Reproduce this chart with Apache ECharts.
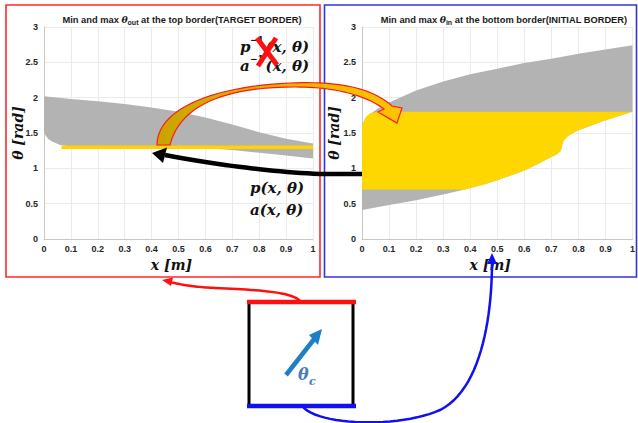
<!DOCTYPE html>
<html><head><meta charset="utf-8">
<script src="https://cdn.jsdelivr.net/npm/echarts@6/dist/echarts.min.js"></script>
<style>html,body{margin:0;padding:0;background:#fff}#c{width:638px;height:423px}</style>
</head><body><div id="c"></div>
<script>
// ---- axes ----
const xTicks = [0, 0.1, 0.2, 0.3, 0.4, 0.5, 0.6, 0.7, 0.8, 0.9, 1];
const yTicks = [0, 0.5, 1, 1.5, 2, 2.5, 3];

// ---- left panel: theta_out at top border (target) ----
const outUpperX = [0, 0.1, 0.2, 0.3, 0.4, 0.5, 0.6, 0.7, 0.8, 0.9, 1.0];
const outUpperY = [2.02, 1.98, 1.95, 1.91, 1.86, 1.80, 1.72, 1.62, 1.51, 1.42, 1.35];
const outLowerX = [0, 0.005, 0.015, 0.03, 0.06, 0.1, 0.3, 0.55, 0.7, 0.8, 0.9, 1.0];
const outLowerY = [1.54, 1.47, 1.42, 1.38, 1.33, 1.31, 1.30, 1.30, 1.26, 1.22, 1.18, 1.14];
const targetX = [0.065, 1.0];
const targetY = [1.3, 1.3];

// ---- right panel: theta_in at bottom border (initial) ----
const inUpperX = [0, 0.01, 0.03, 0.06, 0.1, 0.2, 0.3, 0.4, 0.5, 0.6, 0.7, 0.8, 0.9, 1.0];
const inUpperY = [1.6, 1.68, 1.77, 1.85, 1.93, 2.1, 2.23, 2.33, 2.41, 2.49, 2.55, 2.62, 2.68, 2.74];
const inLowerX = [0, 0.1, 0.2, 0.3, 0.38, 0.45, 0.5, 0.6, 0.65, 0.7, 0.72, 0.732, 0.738, 0.74, 0.745, 0.759, 0.78, 0.8, 0.85, 0.9, 0.95, 1.0];
const inLowerY = [0.41, 0.48, 0.55, 0.63, 0.70, 0.77, 0.83, 0.97, 1.06, 1.16, 1.20, 1.235, 1.28, 1.33, 1.39, 1.45, 1.50, 1.54, 1.61, 1.68, 1.74, 1.80];
const initTopX = [0, 0, 0.005, 0.015, 0.03, 0.06, 1.0];
const initTopY = [0.7, 1.58, 1.66, 1.73, 1.78, 1.80, 1.80];
const initFloor = 0.7;

const zip = (xs, ys) => xs.map((x, i) => [x, ys[i]]);

const outGrayPoly = zip(outUpperX, outUpperY).concat(zip(outLowerX, outLowerY).reverse());
const inGrayPoly = zip(inUpperX, inUpperY).concat(zip(inLowerX, inLowerY).reverse());
const inYellowPoly = zip(initTopX, initTopY).concat(
  zip(inLowerX, inLowerY).filter(p => p[1] >= initFloor).reverse()
);

const GRAY = '#b3b3b3', GOLD = '#ffd700';

function polySeries(idx, pts, color, z) {
  return {
    type: 'custom', xAxisIndex: idx, yAxisIndex: idx, silent: true, z: z,
    data: [[0, 0]], clip: true,
    renderItem: function (params, api) {
      return { type: 'polygon', shape: { points: pts.map(p => api.coord(p)) }, style: { fill: color } };
    }
  };
}

// --- annotation geometry helpers (pixel space decorations) ---
function cubic(p0, p1, p2, p3, n) {
  const out = [];
  for (let i = 0; i <= n; i++) {
    const t = i / n, u = 1 - t;
    out.push([u*u*u*p0[0] + 3*u*u*t*p1[0] + 3*u*t*t*p2[0] + t*t*t*p3[0],
              u*u*u*p0[1] + 3*u*u*t*p1[1] + 3*u*t*t*p2[1] + t*t*t*p3[1]]);
  }
  return out;
}
function chain(start, segs) {
  let pts = [start], cur = start;
  segs.forEach(s => {
    if (s.length === 1) { pts.push(s[0]); cur = s[0]; }
    else { const c = cubic(cur, s[0], s[1], s[2], 24); c.shift(); pts = pts.concat(c); cur = s[2]; }
  });
  return pts;
}

const bandPts = chain([157, 145], [
  [[157, 112], [205, 87], [290, 83]],
  [[340, 81], [372, 88], [392, 106]],
  [[402, 108]], [[397, 123]], [[378, 112]], [[384, 109]],
  [[365, 95], [335, 87], [295, 87]],
  [[225, 87], [180, 105], [170, 145]]
]);
const blackPts = chain([362, 174], [[[320, 174]], [[270, 172], [205, 163], [165, 155]]]);
const redPts = chain([300, 301], [[[292, 292], [260, 290], [215, 288]], [[195, 287], [182, 285], [170, 282]]]);
const bluePts = chain([302, 406], [[[318, 426], [400, 428], [440, 410]], [[480, 390], [492, 320], [492, 262]]]);

const labelStyle = { fontFamily: 'Liberation Sans', fontWeight: 'bold', fontSize: 9, color: '#262626' };
function mkX(i) {
  return {
    gridIndex: i, type: 'value', min: xTicks[0], max: xTicks[xTicks.length - 1], interval: 0.1,
    axisLine: { show: true, lineStyle: { color: '#c8c8c8' } }, axisTick: { show: false },
    splitLine: { show: true, lineStyle: { color: '#ebebeb' } },
    axisLabel: Object.assign({ margin: 5 }, labelStyle),
    name: 'x [m]', nameLocation: 'middle', nameGap: 17,
    nameTextStyle: { fontFamily: 'DejaVu Serif', fontStyle: 'italic', fontWeight: 'bold', fontSize: 14, color: '#111', padding: [0, 14, 0, 0] }
  };
}
function mkY(i) {
  return {
    gridIndex: i, type: 'value', min: yTicks[0], max: yTicks[yTicks.length - 1], interval: 0.5,
    axisLine: { show: true, lineStyle: { color: '#c8c8c8' } }, axisTick: { show: false },
    splitLine: { show: true, lineStyle: { color: '#ebebeb' } },
    axisLabel: Object.assign({ margin: 6 }, labelStyle)
  };
}

const titleRich = {
  n: { fontFamily: 'Liberation Sans', fontWeight: 'bold', fontSize: 9.3, color: '#1a1a1a' },
  t: { fontFamily: 'DejaVu Serif', fontStyle: 'italic', fontSize: 9.3, color: '#1a1a1a' },
  s: { fontFamily: 'Liberation Sans', fontWeight: 'bold', fontSize: 7, color: '#1a1a1a', padding: [6, 0, 0, 0] }
};

const serifBI = 'italic bold 15px "DejaVu Serif"';

const option = {
  animation: false,
  backgroundColor: '#fff',
  title: [
    { text: '{n|Min and max }{t|θ}{s|out}{n| at the top border(TARGET BORDER)}', left: 177, top: 8, textAlign: 'center', textStyle: { rich: titleRich } },
    { text: '{n|Min and max }{t|θ}{s|in}{n| at the bottom border(INITIAL BORDER)}', left: 499, top: 8, textAlign: 'center', textStyle: { rich: titleRich } }
  ],
  grid: [
    { left: 44, top: 27, width: 269, height: 212 },
    { left: 362, top: 27, width: 272, height: 212 }
  ],
  xAxis: [mkX(0), mkX(1)],
  yAxis: [mkY(0), mkY(1)],
  series: [
    polySeries(0, outGrayPoly, GRAY, 2),
    {
      type: 'line', xAxisIndex: 0, yAxisIndex: 0, data: zip(targetX, targetY), symbol: 'none', silent: true, z: 3,
      lineStyle: { color: '#ffd200', width: 3.5 }
    },
    polySeries(1, inGrayPoly, GRAY, 2),
    polySeries(1, inYellowPoly, GOLD, 3)
  ],
  graphic: [
    { type: 'rect', z: 50, shape: { x: 6, y: 5, width: 314, height: 272 }, style: { fill: 'none', stroke: '#ff2a2a', lineWidth: 1.6 } },
    { type: 'rect', z: 50, shape: { x: 324.5, y: 5, width: 312, height: 272 }, style: { fill: 'none', stroke: '#3434d6', lineWidth: 1.6 } },
    { type: 'text', z: 60, x: 18, y: 133, rotation: Math.PI / 2, style: { text: 'θ [rad]', font: 'italic bold 14px "DejaVu Serif"', fill: '#111', textAlign: 'center', textVerticalAlign: 'middle' } },
    { type: 'text', z: 60, x: 334, y: 133, rotation: Math.PI / 2, style: { text: 'θ [rad]', font: 'italic bold 14px "DejaVu Serif"', fill: '#111', textAlign: 'center', textVerticalAlign: 'middle' } },
    { type: 'polygon', z: 70, shape: { points: bandPts },
      style: { fill: new echarts.graphic.LinearGradient(0, 0, 1, 0, [{ offset: 0, color: '#c9a400' }, { offset: 1, color: '#ffc400' }]), stroke: '#ff1a1a', lineWidth: 1.2 } },
    { type: 'polyline', z: 70, shape: { points: blackPts }, style: { fill: 'none', stroke: '#000', lineWidth: 4.5 } },
    { type: 'polygon', z: 70, shape: { points: [[152, 153], [167, 147.5], [163, 163]] }, style: { fill: '#000' } },
    { type: 'text', z: 72, style: { text: 'p', x: 240, y: 47, font: serifBI, fill: '#111', textVerticalAlign: 'middle' } },
    { type: 'text', z: 72, style: { text: '−1', x: 250, y: 40, font: 'bold 9px "DejaVu Serif"', fill: '#111', textVerticalAlign: 'middle' } },
    { type: 'text', z: 72, style: { text: '(x, θ)', x: 309, y: 47, font: serifBI, fill: '#111', textAlign: 'right', textVerticalAlign: 'middle' } },
    { type: 'text', z: 72, style: { text: 'a', x: 240, y: 66, font: serifBI, fill: '#111', textVerticalAlign: 'middle' } },
    { type: 'text', z: 72, style: { text: '−1', x: 250, y: 59, font: 'bold 9px "DejaVu Serif"', fill: '#111', textVerticalAlign: 'middle' } },
    { type: 'text', z: 72, style: { text: '(x, θ)', x: 309, y: 66, font: serifBI, fill: '#111', textAlign: 'right', textVerticalAlign: 'middle' } },
    { type: 'line', z: 74, shape: { x1: 257, y1: 38, x2: 277, y2: 65 }, style: { stroke: '#ff1010', lineWidth: 5 } },
    { type: 'line', z: 74, shape: { x1: 276, y1: 38, x2: 258, y2: 66 }, style: { stroke: '#ff1010', lineWidth: 5 } },
    { type: 'text', z: 72, style: { text: 'p(x, θ)', x: 250, y: 188, font: serifBI, fill: '#111', textVerticalAlign: 'middle' } },
    { type: 'text', z: 72, style: { text: 'a(x, θ)', x: 250, y: 210, font: serifBI, fill: '#111', textVerticalAlign: 'middle' } },
    { type: 'line', z: 60, shape: { x1: 249, y1: 302, x2: 249, y2: 406 }, style: { stroke: '#000', lineWidth: 3 } },
    { type: 'line', z: 60, shape: { x1: 353, y1: 302, x2: 353, y2: 406 }, style: { stroke: '#000', lineWidth: 3 } },
    { type: 'line', z: 61, shape: { x1: 247, y1: 302, x2: 356, y2: 302 }, style: { stroke: '#ff1010', lineWidth: 4.5 } },
    { type: 'line', z: 61, shape: { x1: 247, y1: 406, x2: 356, y2: 406 }, style: { stroke: '#1010f0', lineWidth: 4.5 } },
    { type: 'line', z: 61, shape: { x1: 286, y1: 375, x2: 315, y2: 338 }, style: { stroke: '#1e7fc8', lineWidth: 4.5 } },
    { type: 'polygon', z: 61, shape: { points: [[322, 329], [309, 335], [318, 345]] }, style: { fill: '#1e7fc8' } },
    { type: 'text', z: 61, style: { text: 'θ', x: 298, y: 374, font: 'italic bold 16px "DejaVu Serif"', fill: '#4a7db5', textVerticalAlign: 'middle' } },
    { type: 'text', z: 61, style: { text: 'c', x: 309, y: 381, font: 'italic bold 11px "DejaVu Serif"', fill: '#4a7db5', textVerticalAlign: 'middle' } },
    { type: 'polyline', z: 61, shape: { points: redPts }, style: { fill: 'none', stroke: '#ff1010', lineWidth: 2.5 } },
    { type: 'polygon', z: 61, shape: { points: [[162, 280], [173, 277.5], [171, 286]] }, style: { fill: '#ff1010' } },
    { type: 'polyline', z: 61, shape: { points: bluePts }, style: { fill: 'none', stroke: '#1010f0', lineWidth: 2.5 } },
    { type: 'polygon', z: 61, shape: { points: [[492, 253], [487, 264], [497, 264]] }, style: { fill: '#1010f0' } }
  ]
};

const chart = echarts.init(document.getElementById('c'), null, { renderer: 'svg' });
chart.setOption(option);
</script>
</body></html>
